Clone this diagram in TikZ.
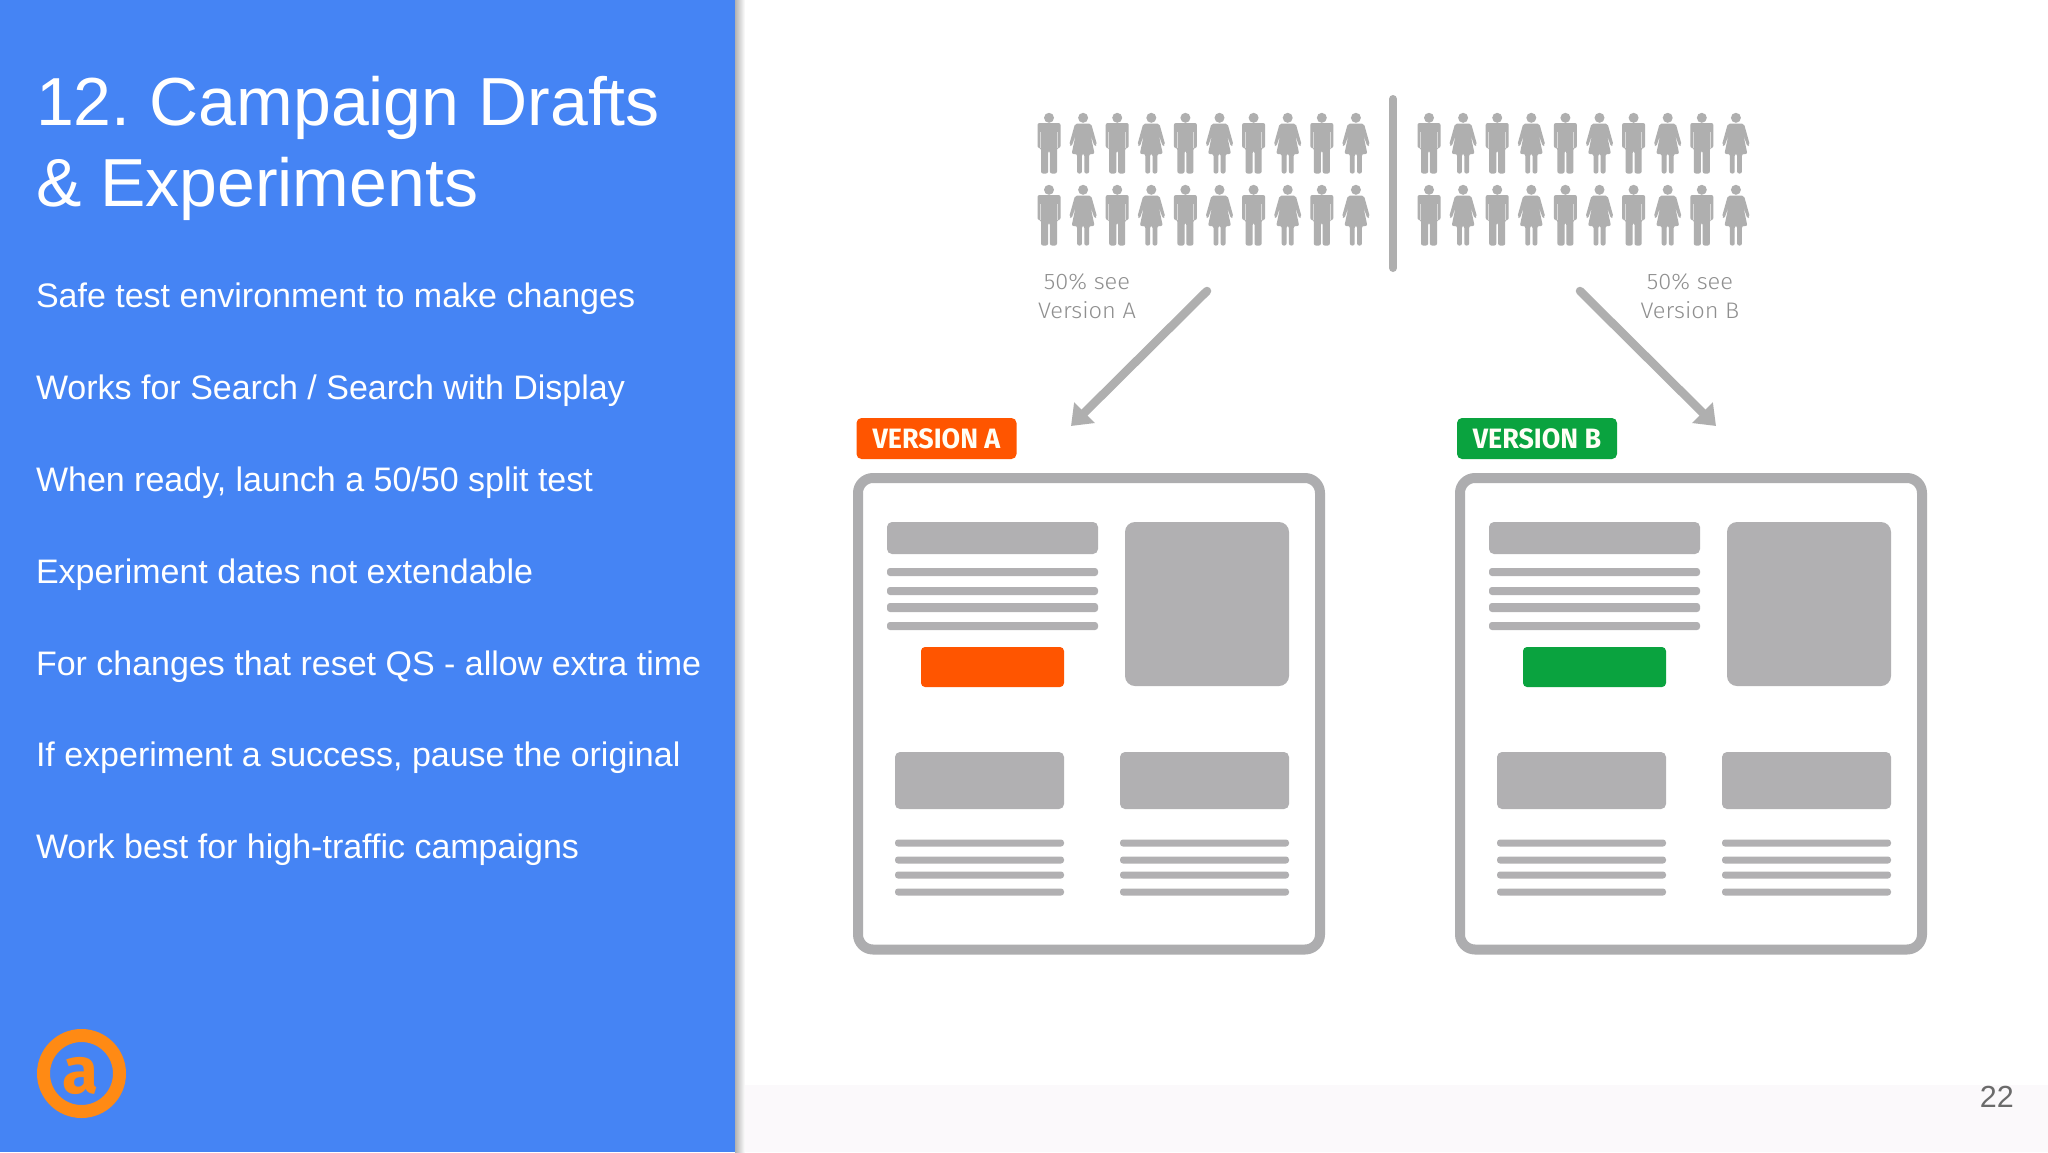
\documentclass[tikz,border=0pt]{standalone}
\usepackage{fontspec}
\usetikzlibrary{arrows.meta}
\setmainfont{Liberation Sans}
\newfontfamily\TitleF[FakeStretch=1.0]{Liberation Sans}
\newfontfamily\BodyF[FakeStretch=1.0]{Liberation Sans}
\newfontfamily\BadgeF[FakeStretch=0.96]{Fira Sans Bold}
\newfontfamily\LabelF[FakeStretch=1.05]{Fira Sans Light}
\newfontfamily\LogoF[FakeStretch=1.0]{Fira Sans Bold}
\definecolor{panelblue}{HTML}{4584F4}
\definecolor{shapegray}{HTML}{B1B0B2}
\definecolor{framegray}{HTML}{ADADAF}
\definecolor{peoplegray}{HTML}{AFAFAF}
\definecolor{slitgray}{HTML}{DADADA}
\definecolor{labelgray}{HTML}{8F8F8F}
\definecolor{vaorange}{HTML}{FF5500}
\definecolor{vbgreen}{HTML}{0AA33F}
\definecolor{logoorange}{HTML}{FF8A14}
\definecolor{footerwash}{HTML}{FBF9FB}
\tikzset{
  x=1pt,y=-1pt,
  txt/.style={inner sep=0pt,outer sep=0pt,anchor=base west},
  bodytext/.style={txt,text=white,font=\BodyF\fontsize{34}{40}\selectfont},
  titletext/.style={txt,text=white,font=\TitleF\fontsize{68}{81}\selectfont},
  sidelabel/.style={inner sep=0pt,outer sep=0pt,anchor=base,align=center,text=labelgray,font=\LabelF\fontsize{22.5}{29}\selectfont},
  badge/.style={rounded corners=5pt,inner sep=0pt,outer sep=0pt,minimum width=160pt,minimum height=41pt,anchor=north west,text=white!96!yellow,font=\BadgeF\fontsize{28}{30}\selectfont},
  shapeblock/.style={fill=shapegray,rounded corners=#1},
  shapeblock/.default=5pt,
  textline/.style={fill=shapegray,rounded corners=3pt},
  pagebox/.style={draw=framegray,line width=10pt,fill=white,rounded corners=15pt},
  flowarrow/.style={draw=peoplegray,line width=8.5pt,line cap=round,-{Triangle[length=19pt,width=28pt]}},
  fig/.style={fill=peoplegray},
  man/.pic={
    \fill[fig] (0,4.8) circle (5);
    \fill[fig,rounded corners=2pt] (-11.5,35) -- (-11.5,10) -- (11.5,10) -- (11.5,35) -- (8,35) -- (8,60.5) -- (0.9,60.5) -- (0.9,38) -- (-0.9,38) -- (-0.9,60.5) -- (-8,60.5) -- (-8,35) -- cycle;
    \fill[slitgray] (-8.8,19) rectangle (-7.8,35);
    \fill[slitgray] (7.8,19) rectangle (8.8,35);
  },
  woman/.pic={
    \fill[fig] (0,4.8) circle (5);
    \fill[fig] (-8,10.5) [rounded corners=2pt] -- (8,10.5) -- (14,32) -- (11.5,33.5) -- (7.5,22) -- (11.5,41) -- (6,41) -- (6,60.5) -- (1.2,60.5) -- (1.2,41) -- (-1.2,41) -- (-1.2,60.5) -- (-6,60.5) -- (-6,41) -- (-11.5,41) -- (-7.5,22) -- (-11.5,33.5) -- (-14,32) -- cycle;
  },
  pagecontent/.pic={
    \draw[pagebox] (5,5) rectangle (467,476.5);
    \fill[shapeblock] (34,49) rectangle (245,81);
    \fill[textline] (34,95) rectangle (245,103);
    \fill[textline] (34,114) rectangle (245,122);
    \fill[textline] (34,130) rectangle (245,139);
    \fill[textline] (34,149) rectangle (245,157);
    \fill[shapeblock=10pt] (272,49) rectangle (436,213);
    \fill[shapeblock] (42,279) rectangle (211,336);
    \fill[shapeblock] (267,279) rectangle (436,336);
    \foreach \ly in {366.5,383.5,398.5,415.5}{
      \fill[textline] (42,\ly) rectangle (211,\ly+7);
      \fill[textline] (267,\ly) rectangle (436,\ly+7);
    }
  }
}
\begin{document}
\begin{tikzpicture}
\useasboundingbox (0,0) rectangle (2048,1152);
% backgrounds
\fill[white] (0,0) rectangle (2048,1152);
\fill[footerwash] (745,1085) rectangle (2048,1152);
\shade[left color=black!30,right color=white] (735,0) rectangle (745,1152);
\fill[panelblue] (0,0) rectangle (735,1152);
% left panel text
\node[titletext,align=left] (title) at (36,206) {12.\hspace{-6pt} Campaign Drafts\\\& Experiments};
\node[bodytext] (b1) at (36,307) {Safe test environment to make changes};
\node[bodytext] (b2) at (36,399) {Works for Search / Search with Display};
\node[bodytext] (b3) at (36,491) {When ready, launch a 50/50 split test};
\node[bodytext] (b4) at (36,583) {Experiment dates not extendable};
\node[bodytext] (b5) at (36,675) {For changes that reset QS - allow extra time};
\node[bodytext] (b6) at (36,766) {If experiment a success, pause the original};
\node[bodytext] (b7) at (36,858) {Work best for high-traffic campaigns};
% logo
\draw[logoorange,line width=13pt] (81.5,1073.5) circle (38);
\node[inner sep=0pt,anchor=base,text=logoorange,font=\LogoF\fontsize{66}{66}\selectfont] (logoa) at (81,1093) {a};
% page number
\node[inner sep=0pt,anchor=base east,text=black!58,font=\fontsize{30.5}{30}\selectfont] (pagenum) at (2014,1107) {22};
% people
\foreach \gx in {1049,1429}{
  \foreach \gy in {113,185}{
    \foreach \i in {0,2,4,6,8}{
      \pic at ({\gx+\i*34.1},\gy) {man};
      \pic at ({\gx+(\i+1)*34.1},\gy) {woman};
    }
  }
}
% divider
\coordinate (divtop) at (1393,99);
\coordinate (divbot) at (1393,268);
\draw[peoplegray,line width=8pt,line cap=round] (divtop) -- (divbot);
% labels
\node[sidelabel] (la) at (1087,318) {50\% see\\Version A};
\node[sidelabel] (lb) at (1690,318) {50\% see\\Version B};
% arrows
\coordinate (astart) at (1207,291);
\coordinate (aend) at (1071,426);
\coordinate (bstart) at (1580,291);
\coordinate (bend) at (1716,426);
\draw[flowarrow] (astart) -- (aend);
\draw[flowarrow] (bstart) -- (bend);
% badges
\node[badge,fill=vaorange] (va) at (856.5,418) {VERSION A};
\node[badge,fill=vbgreen] (vb) at (1457,418) {VERSION B};
% pages
\pic at (853,473) {pagecontent};
\pic at (1455,473) {pagecontent};
\fill[vaorange,rounded corners=4pt] (921,647) rectangle (1064,687);
\fill[vbgreen,rounded corners=4pt] (1523,647) rectangle (1666,687);
\end{tikzpicture}
\end{document}
